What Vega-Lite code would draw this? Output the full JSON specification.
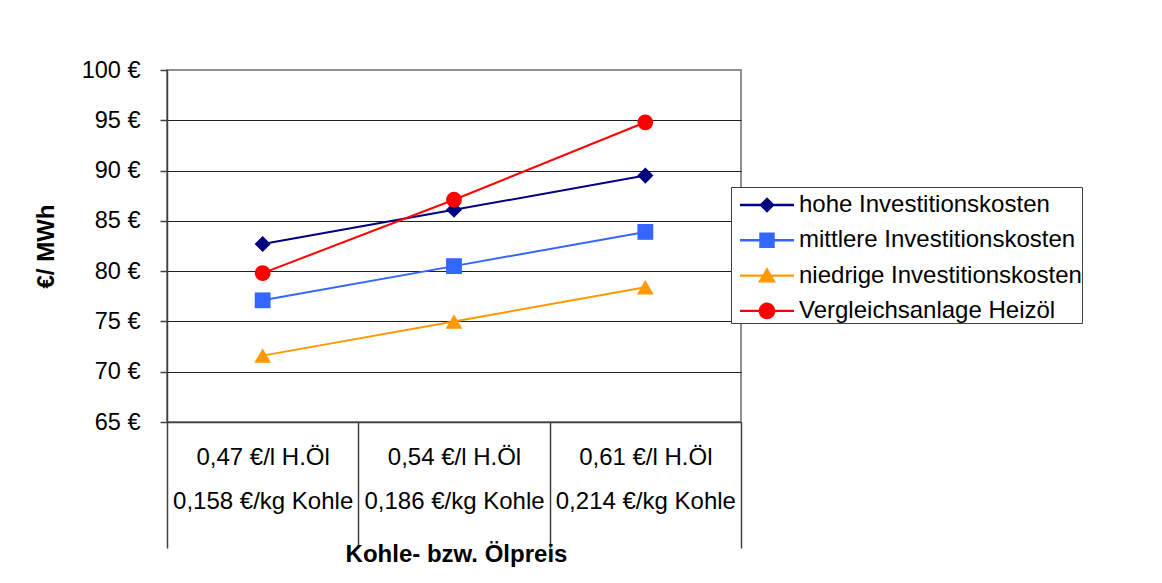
{
  "$schema": "https://vega.github.io/schema/vega-lite/v6.json",
  "width": 574,
  "height": 352,
  "autosize": "none",
  "padding": {"left": 167, "top": 70, "right": 421, "bottom": 161},
  "background": "white",
  "data": {
    "values": [
      {"kat": "0,47 €/l H.Öl|0,158 €/kg Kohle", "serie": "hohe Investitionskosten", "wert": 82.7},
      {"kat": "0,54 €/l H.Öl|0,186 €/kg Kohle", "serie": "hohe Investitionskosten", "wert": 86.1},
      {"kat": "0,61 €/l H.Öl|0,214 €/kg Kohle", "serie": "hohe Investitionskosten", "wert": 89.5},
      {"kat": "0,47 €/l H.Öl|0,158 €/kg Kohle", "serie": "mittlere Investitionskosten", "wert": 77.1},
      {"kat": "0,54 €/l H.Öl|0,186 €/kg Kohle", "serie": "mittlere Investitionskosten", "wert": 80.5},
      {"kat": "0,61 €/l H.Öl|0,214 €/kg Kohle", "serie": "mittlere Investitionskosten", "wert": 83.9},
      {"kat": "0,47 €/l H.Öl|0,158 €/kg Kohle", "serie": "niedrige Investitionskosten", "wert": 71.6},
      {"kat": "0,54 €/l H.Öl|0,186 €/kg Kohle", "serie": "niedrige Investitionskosten", "wert": 75.0},
      {"kat": "0,61 €/l H.Öl|0,214 €/kg Kohle", "serie": "niedrige Investitionskosten", "wert": 78.4},
      {"kat": "0,47 €/l H.Öl|0,158 €/kg Kohle", "serie": "Vergleichsanlage Heizöl", "wert": 79.8},
      {"kat": "0,54 €/l H.Öl|0,186 €/kg Kohle", "serie": "Vergleichsanlage Heizöl", "wert": 87.1},
      {"kat": "0,61 €/l H.Öl|0,214 €/kg Kohle", "serie": "Vergleichsanlage Heizöl", "wert": 94.8}
    ]
  },
  "encoding": {
    "x": {
      "field": "kat", "type": "nominal", "sort": null,
      "scale": {"type": "band", "paddingInner": 0, "paddingOuter": 0},
      "axis": {
        "title": "Kohle- bzw. Ölpreis",
        "titleFont": "Liberation Sans", "titleFontSize": 24, "titleFontWeight": "bold", "titleColor": "black",
        "titleBaseline": "alphabetic", "titleY": 139, "titleX": 289,
        "labelExpr": "split(datum.label, '|')",
        "labelFont": "Liberation Sans", "labelFontSize": 24, "labelColor": "black",
        "labelAngle": 0, "labelAlign": "center", "labelBaseline": "middle",
        "labelLineHeight": 44, "labelPadding": -91, "labelOverlap": false, "labelBound": false, "labelLimit": 0,
        "tickBand": "extent", "tickSize": 126, "tickColor": "#404040", "tickWidth": 1.5,
        "domainColor": "#404040", "domainWidth": 1.5, "grid": false
      }
    },
    "y": {
      "field": "wert", "type": "quantitative",
      "scale": {"domain": [65, 100], "nice": false, "zero": false},
      "axis": {
        "title": "€/ MWh",
        "titleFont": "Liberation Sans", "titleFontSize": 24, "titleFontWeight": "bold", "titleColor": "black",
        "titleAngle": -90, "titleX": -121, "titleY": 176, "titleAlign": "center", "titleBaseline": "middle",
        "values": [65, 70, 75, 80, 85, 90, 95, 100],
        "labelExpr": "datum.value + ' €'",
        "labelFont": "Liberation Sans", "labelFontSize": 23.5, "labelColor": "black", "labelPadding": 20,
        "tickSize": 7, "tickColor": "#404040", "tickWidth": 1.5,
        "domainColor": "#404040", "domainWidth": 1.5,
        "grid": true, "gridColor": {"condition": {"test": "datum.value === 100", "value": "#909090"}, "value": "#202020"}, "gridWidth": 1.2
      }
    },
    "color": {
      "field": "serie", "type": "nominal",
      "scale": {
        "domain": ["hohe Investitionskosten", "mittlere Investitionskosten", "niedrige Investitionskosten", "Vergleichsanlage Heizöl"],
        "range": ["#000080", "#3366FF", "#FF9900", "#FF0000"]
      },
      "legend": {
        "orient": "none", "legendX": 564, "legendY": 117, "title": null,
        "strokeColor": "#404040", "fillColor": "white", "padding": 0,
        "symbolSize": 1296, "symbolOffset": 18,
        "labelFont": "Liberation Sans", "labelFontSize": 24, "labelColor": "black", "labelOffset": 14, "labelLimit": 0,
        "rowPadding": 5.3,
        "encode": {
          "symbols": {
            "update": {
              "shape": {"signal": "datum.value === 'hohe Investitionskosten' ? 'M-1.5,-0.067H-0.2V0.067H-1.5Z M0.2,-0.067H1.5V0.067H0.2Z M0,-0.43L0.43,0L0,0.43L-0.43,0Z' : datum.value === 'mittlere Investitionskosten' ? 'M-1.5,-0.067H-0.2V0.067H-1.5Z M0.2,-0.067H1.5V0.067H0.2Z M-0.43,-0.43H0.43V0.43H-0.43Z' : datum.value === 'niedrige Investitionskosten' ? 'M-1.5,-0.067H-0.2V0.067H-1.5Z M0.2,-0.067H1.5V0.067H0.2Z M0,-0.47L0.5,0.38H-0.5Z' : 'M-1.5,-0.067H-0.2V0.067H-1.5Z M0.2,-0.067H1.5V0.067H0.2Z M-0.46,0A0.46,0.46,0,1,1,0.46,0A0.46,0.46,0,1,1,-0.46,0Z'"},
              "fill": {"signal": "scale('color', datum.value)"},
              "stroke": {"value": "transparent"},
              "strokeWidth": {"value": 0},
              "size": {"value": 1296},
              "opacity": {"value": 1}
            }
          }
        }
      }
    }
  },
  "layer": [
    {"mark": {"type": "line", "strokeWidth": 2}},
    {
      "transform": [{"filter": "datum.serie === 'hohe Investitionskosten'"}],
      "mark": {"type": "point", "filled": true, "size": 260, "opacity": 1, "shape": "diamond"}
    },
    {
      "transform": [{"filter": "datum.serie === 'mittlere Investitionskosten'"}],
      "mark": {"type": "point", "filled": true, "size": 250, "opacity": 1, "shape": "square"}
    },
    {
      "transform": [{"filter": "datum.serie === 'niedrige Investitionskosten'"}],
      "mark": {"type": "point", "filled": true, "size": 280, "opacity": 1, "shape": "triangle-up"}
    },
    {
      "transform": [{"filter": "datum.serie === 'Vergleichsanlage Heizöl'"}],
      "mark": {"type": "point", "filled": true, "size": 250, "opacity": 1, "shape": "circle"}
    }
  ],
  "config": {
    "view": {"stroke": "#909090", "strokeWidth": 2},
    "font": "Liberation Sans"
  }
}
